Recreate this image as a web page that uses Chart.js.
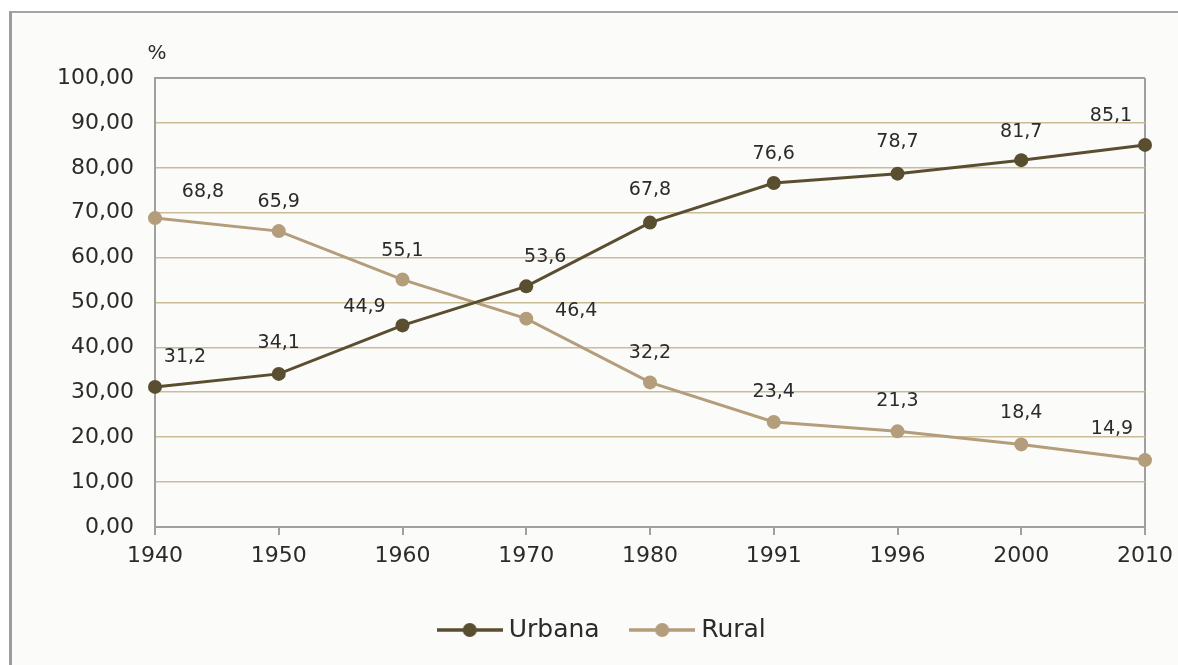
<!DOCTYPE html>
<html>
<head>
<meta charset="utf-8">
<script src="https://cdn.jsdelivr.net/npm/chart.js@4.4.1/dist/chart.umd.min.js"></script>
<style>
  html, body { margin: 0; padding: 0; background: #ffffff; overflow: hidden; }
  #frame { position: absolute; left: 9px; top: 11px; width: 1400px; height: 800px;
           border-left: 3px solid #9c9c9c; border-top: 2px solid #a4a4a4; background: #fbfcfa; }
  #wrap { position: absolute; left: 0; top: 0; width: 1178px; height: 665px; }
</style>
</head>
<body>
<div id="frame"></div>
<div id="wrap"><canvas id="c" width="1178" height="665"></canvas></div>
<script>
const categories = ['1940', '1950', '1960', '1970', '1980', '1991', '1996', '2000', '2010'];
const urbana = [31.2, 34.1, 44.9, 53.6, 67.8, 76.6, 78.7, 81.7, 85.1];
const rural = [68.8, 65.9, 55.1, 46.4, 32.2, 23.4, 21.3, 18.4, 14.9];
const seriesNames = ['Urbana', 'Rural'];
const yUnit = '%';

// label offsets (style only)
const labelOffsets = [
  [[30,-30],[0,-31],[-38,-18],[19,-29],[0,-33],[0,-29],[0,-32],[0,-28],[-34,-29]],
  [[48,-26],[0,-29],[0,-29],[50,-8],[0,-29],[0,-30],[0,-30],[0,-31],[-33,-31]]
];

const urbColor = '#5a4e30';
const rurColor = '#b39d7b';
const gridColor = '#cbbc98';
const axisGray = '#a0a0a0';
const textColor = '#2b2b2b';
const fontFam = '"DejaVu Sans", Verdana, sans-serif';

function legendIcon(color) {
  const cv = document.createElement('canvas');
  cv.width = 66; cv.height = 16;
  const g = cv.getContext('2d');
  g.strokeStyle = color; g.lineWidth = 3.5;
  g.beginPath(); g.moveTo(0, 8); g.lineTo(66, 8); g.stroke();
  g.fillStyle = color;
  g.beginPath(); g.arc(33, 8, 7, 0, Math.PI * 2); g.fill();
  return cv;
}

const dataLabels = {
  id: 'dataLabels',
  afterDatasetsDraw(chart) {
    const ctx = chart.ctx;
    ctx.save();
    ctx.font = '19px ' + fontFam;
    ctx.fillStyle = textColor;
    ctx.textAlign = 'center';
    ctx.textBaseline = 'middle';
    chart.data.datasets.forEach((ds, di) => {
      const meta = chart.getDatasetMeta(di);
      meta.data.forEach((pt, i) => {
        const off = labelOffsets[di][i];
        const txt = ds.data[i].toFixed(1).replace('.', ',');
        ctx.fillText(txt, pt.x + off[0], pt.y + off[1]);
      });
    });
    ctx.restore();
  }
};

const unitLabel = {
  id: 'unitLabel',
  afterDraw(chart) {
    const ctx = chart.ctx;
    const a = chart.chartArea;
    ctx.save();
    ctx.font = '20px ' + fontFam;
    ctx.fillStyle = textColor;
    ctx.textAlign = 'center';
    ctx.textBaseline = 'middle';
    ctx.fillText(yUnit, a.left + 2, a.top - 24);
    ctx.restore();
  }
};

const legendShift = {
  id: 'legendShift',
  afterLayout(chart) {
    if (chart.legend) { chart.legend.left += 32; chart.legend.right += 32; }
  }
};

new Chart(document.getElementById('c'), {
  type: 'line',
  data: {
    labels: categories,
    datasets: [
      { label: seriesNames[0], data: urbana, borderColor: urbColor, backgroundColor: urbColor,
        borderWidth: 3, pointRadius: 7, pointBackgroundColor: urbColor, pointBorderWidth: 0, tension: 0 },
      { label: seriesNames[1], data: rural, borderColor: rurColor, backgroundColor: rurColor,
        borderWidth: 3, pointRadius: 7, pointBackgroundColor: rurColor, pointBorderWidth: 0, tension: 0 }
    ]
  },
  options: {
    responsive: false,
    animation: false,
    events: [],
    layout: { padding: { top: 78, right: 33, bottom: 12.5, left: 0 } },
    scales: {
      x: {
        offset: false,
        afterFit(s) { s.height = 54.5; s.paddingRight = 0; },
        grid: {
          color: (c) => c.index === categories.length - 1 ? axisGray : 'transparent',
          tickColor: axisGray, tickLength: 8, lineWidth: 2, drawTicks: true
        },
        border: { color: axisGray, width: 2 },
        ticks: { color: textColor, font: { family: fontFam, size: 22 }, padding: 8, maxRotation: 0, autoSkip: false }
      },
      y: {
        min: 0, max: 100,
        afterFit(s) { s.width = 155; },
        grid: {
          color: (c) => (c.tick && c.tick.value === 100) ? axisGray : gridColor,
          lineWidth: (c) => (c.tick && c.tick.value === 100) ? 2 : 1.6,
          drawTicks: false
        },
        border: { color: axisGray, width: 2 },
        ticks: { stepSize: 10, color: textColor, font: { family: fontFam, size: 22 }, padding: 21,
                 callback: (v) => v.toFixed(2).replace('.', ',') }
      }
    },
    plugins: {
      tooltip: { enabled: false },
      legend: {
        position: 'bottom',
        labels: {
          usePointStyle: true,
          pointStyleWidth: 53,
          boxHeight: 16,
          padding: 36,
          color: textColor,
          font: { family: fontFam, size: 25 },
          generateLabels: (chart) => chart.data.datasets.map((ds, i) => ({
            text: ds.label, pointStyle: legendIcon(ds.borderColor), fillStyle: ds.borderColor,
            strokeStyle: ds.borderColor, lineWidth: 0, hidden: false, datasetIndex: i, fontColor: textColor
          }))
        }
      }
    }
  },
  plugins: [dataLabels, unitLabel, legendShift]
});
</script>
</body>
</html>
